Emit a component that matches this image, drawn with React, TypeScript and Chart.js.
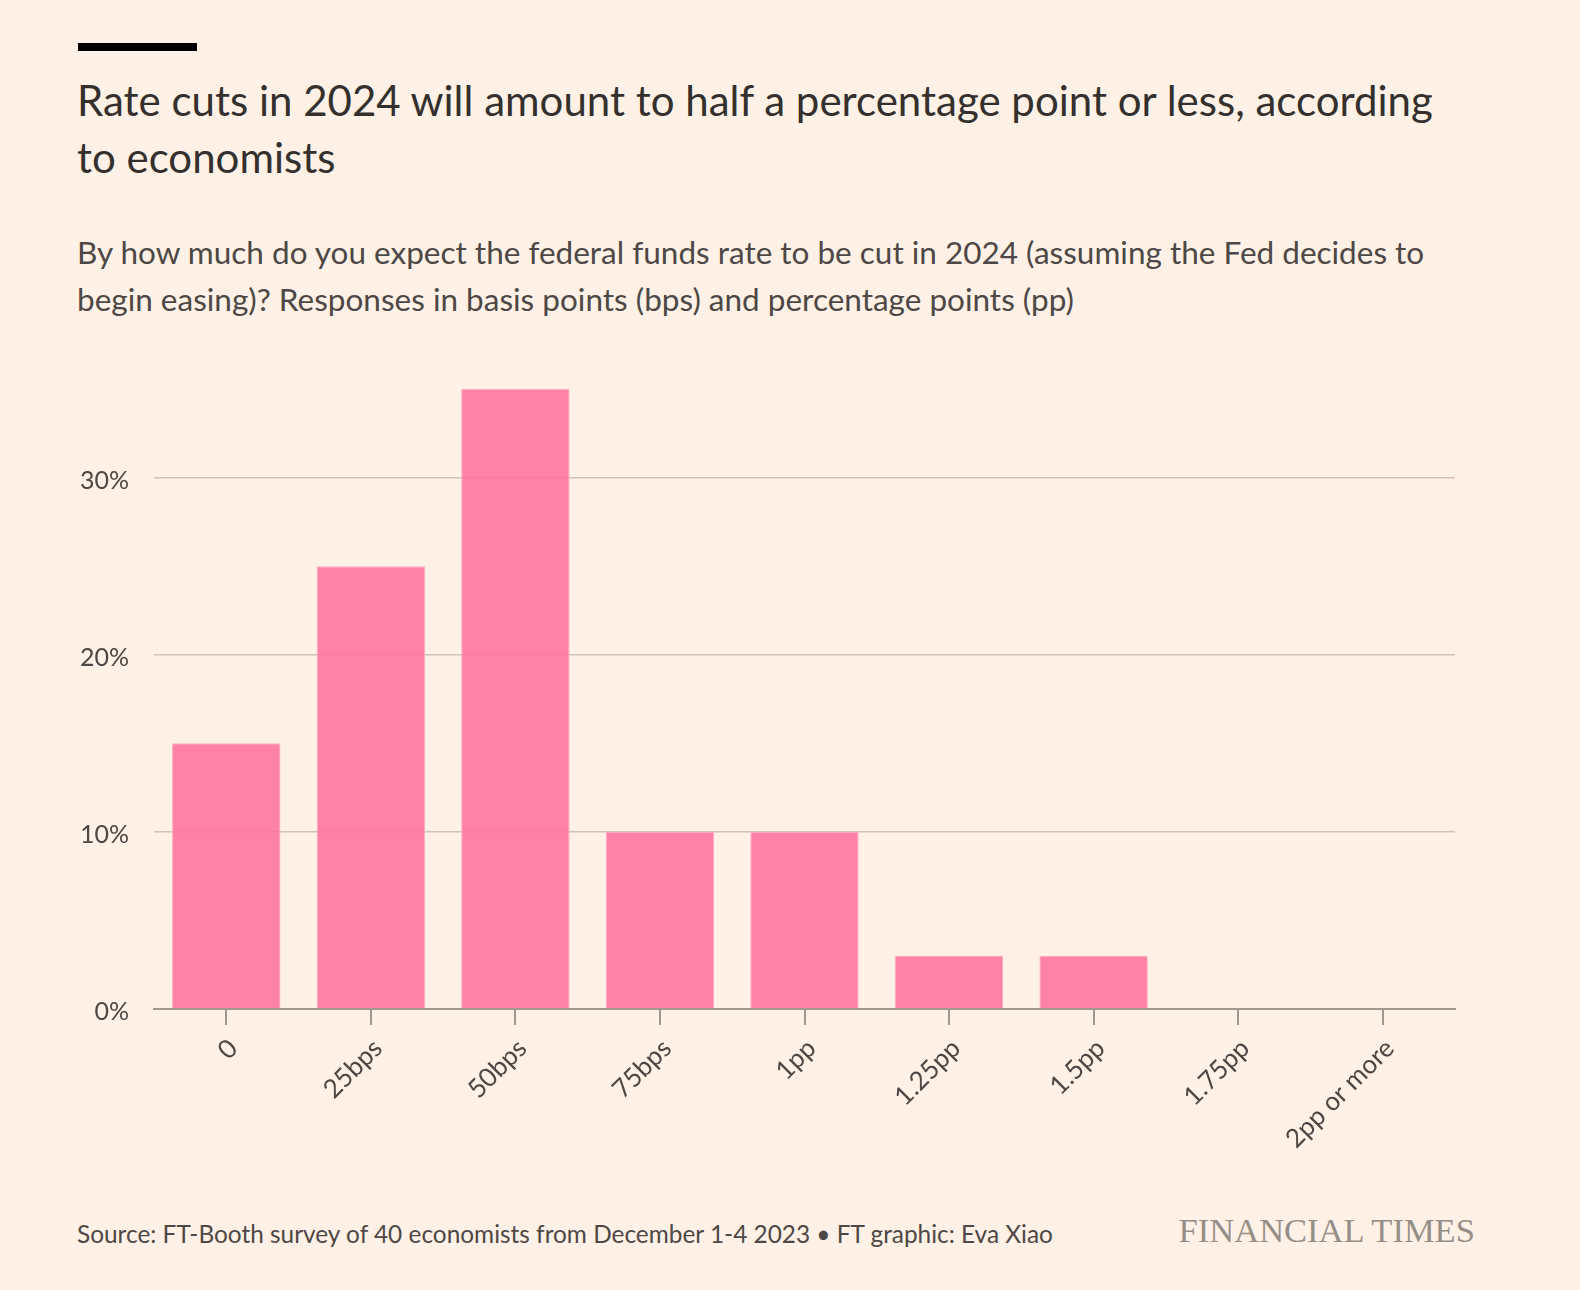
import React, { useEffect, useRef } from 'react';
import { Chart, registerables } from 'chart.js';

Chart.register(...registerables);

const categories = ['0', '25bps', '50bps', '75bps', '1pp', '1.25pp', '1.5pp', '1.75pp', '2pp or more'];
const shares = [15, 25, 35, 10, 10, 3, 3, 0, 0];
const yTickValues = [0, 10, 20, 30];
const yMax = 35;

const titleLines = ['Rate cuts in 2024 will amount to half a percentage point or less, according', 'to economists'];
const subtitleLines = [
  'By how much do you expect the federal funds rate to be cut in 2024 (assuming the Fed decides to',
  'begin easing)? Responses in basis points (bps) and percentage points (pp)',
];
const sourceText = 'Source: FT-Booth survey of 40 economists from December 1-4 2023 \u2022 FT graphic: Eva Xiao';

const BG = '#fff1e5';
const FONT = 'Lato, "Open Sans", sans-serif';

export default function App() {
  const canvasRef = useRef<HTMLCanvasElement | null>(null);

  useEffect(() => {
    const canvas = canvasRef.current;
    if (!canvas) return;
    const chart = new Chart(canvas, {
      type: 'bar',
      data: {
        labels: categories,
        datasets: [
          {
            data: shares,
            backgroundColor: 'rgba(255,118,159,0.9)',
            borderColor: 'rgba(255,172,197,1)',
            borderWidth: (ctx: any) => (ctx.raw > 0 ? 1 : 0),
            categoryPercentage: 0.75,
            barPercentage: 1,
          },
        ],
      },
      options: {
        responsive: false,
        animation: false,
        devicePixelRatio: 1,
        layout: { padding: { left: 0, right: 125, top: 29, bottom: 0 } },
        plugins: {
          legend: { display: false },
          tooltip: { enabled: false },
          title: { display: false },
        },
        scales: {
          x: {
            type: 'category',
            offset: true,
            border: { display: true, color: '#a19990', width: 2 },
            grid: {
              display: true,
              offset: false,
              drawOnChartArea: false,
              drawTicks: true,
              tickLength: 16,
              color: '#a19990',
              lineWidth: 2,
            },
            ticks: {
              minRotation: 45,
              maxRotation: 45,
              autoSkip: false,
              padding: 8,
              labelOffset: 7,
              color: '#4d4845',
              font: { family: FONT, size: 26 },
            },
            afterFit: (scale: any) => {
              scale.height = 191;
              scale.paddingLeft = 0;
              scale.paddingRight = 0;
            },
          },
          y: {
            min: 0,
            max: yMax,
            border: { display: false },
            grid: { color: '#cdc4ba', lineWidth: 1.5, drawTicks: false },
            ticks: {
              padding: 25,
              labelOffset: 3,
              color: '#4d4845',
              font: { family: FONT, size: 25 },
              callback: (v: any) => `${v}%`,
            },
            afterBuildTicks: (scale: any) => {
              scale.ticks = yTickValues.map((v) => ({ value: v }));
            },
            afterFit: (scale: any) => {
              scale.width = 154;
              scale.paddingTop = 0;
              scale.paddingBottom = 0;
            },
          },
        },
      },
    });
    return () => chart.destroy();
  }, []);

  return (
    <div
      style={{
        position: 'absolute',
        left: 0,
        top: 0,
        width: 1580,
        height: 1290,
        background: BG,
        overflow: 'hidden',
        fontFamily: FONT,
      }}
    >
      <div style={{ position: 'absolute', left: 78, top: 43, width: 119, height: 8, background: '#000' }} />
      <div
        style={{
          position: 'absolute',
          left: 77,
          top: 72,
          fontSize: 42,
          lineHeight: '57px',
          color: '#33302e',
          whiteSpace: 'nowrap',
        }}
      >
        {titleLines.map((l, i) => (
          <div key={i}>{l}</div>
        ))}
      </div>
      <div
        style={{
          position: 'absolute',
          left: 77,
          top: 229,
          fontSize: 31.5,
          lineHeight: '47px',
          color: '#4d4845',
          whiteSpace: 'nowrap',
        }}
      >
        {subtitleLines.map((l, i) => (
          <div key={i}>{l}</div>
        ))}
      </div>
      <div style={{ position: 'absolute', left: 0, top: 360, width: 1580, height: 840 }}>
        <canvas ref={canvasRef} width={1580} height={840} style={{ width: 1580, height: 840, display: 'block' }} />
      </div>
      <div
        style={{
          position: 'absolute',
          left: 77,
          top: 1222,
          fontSize: 24.4,
          lineHeight: '24px',
          color: '#4d4845',
          whiteSpace: 'nowrap',
        }}
      >
        {sourceText}
      </div>
      <div
        style={{
          position: 'absolute',
          right: 105,
          top: 1214,
          fontSize: 34,
          lineHeight: '34px',
          color: '#968f88',
          fontFamily: '"Liberation Serif", "DejaVu Serif", serif',
          whiteSpace: 'nowrap',
          transform: 'scaleX(1.015)',
          transformOrigin: 'right center',
        }}
      >
        FINANCIAL TIMES
      </div>
    </div>
  );
}
